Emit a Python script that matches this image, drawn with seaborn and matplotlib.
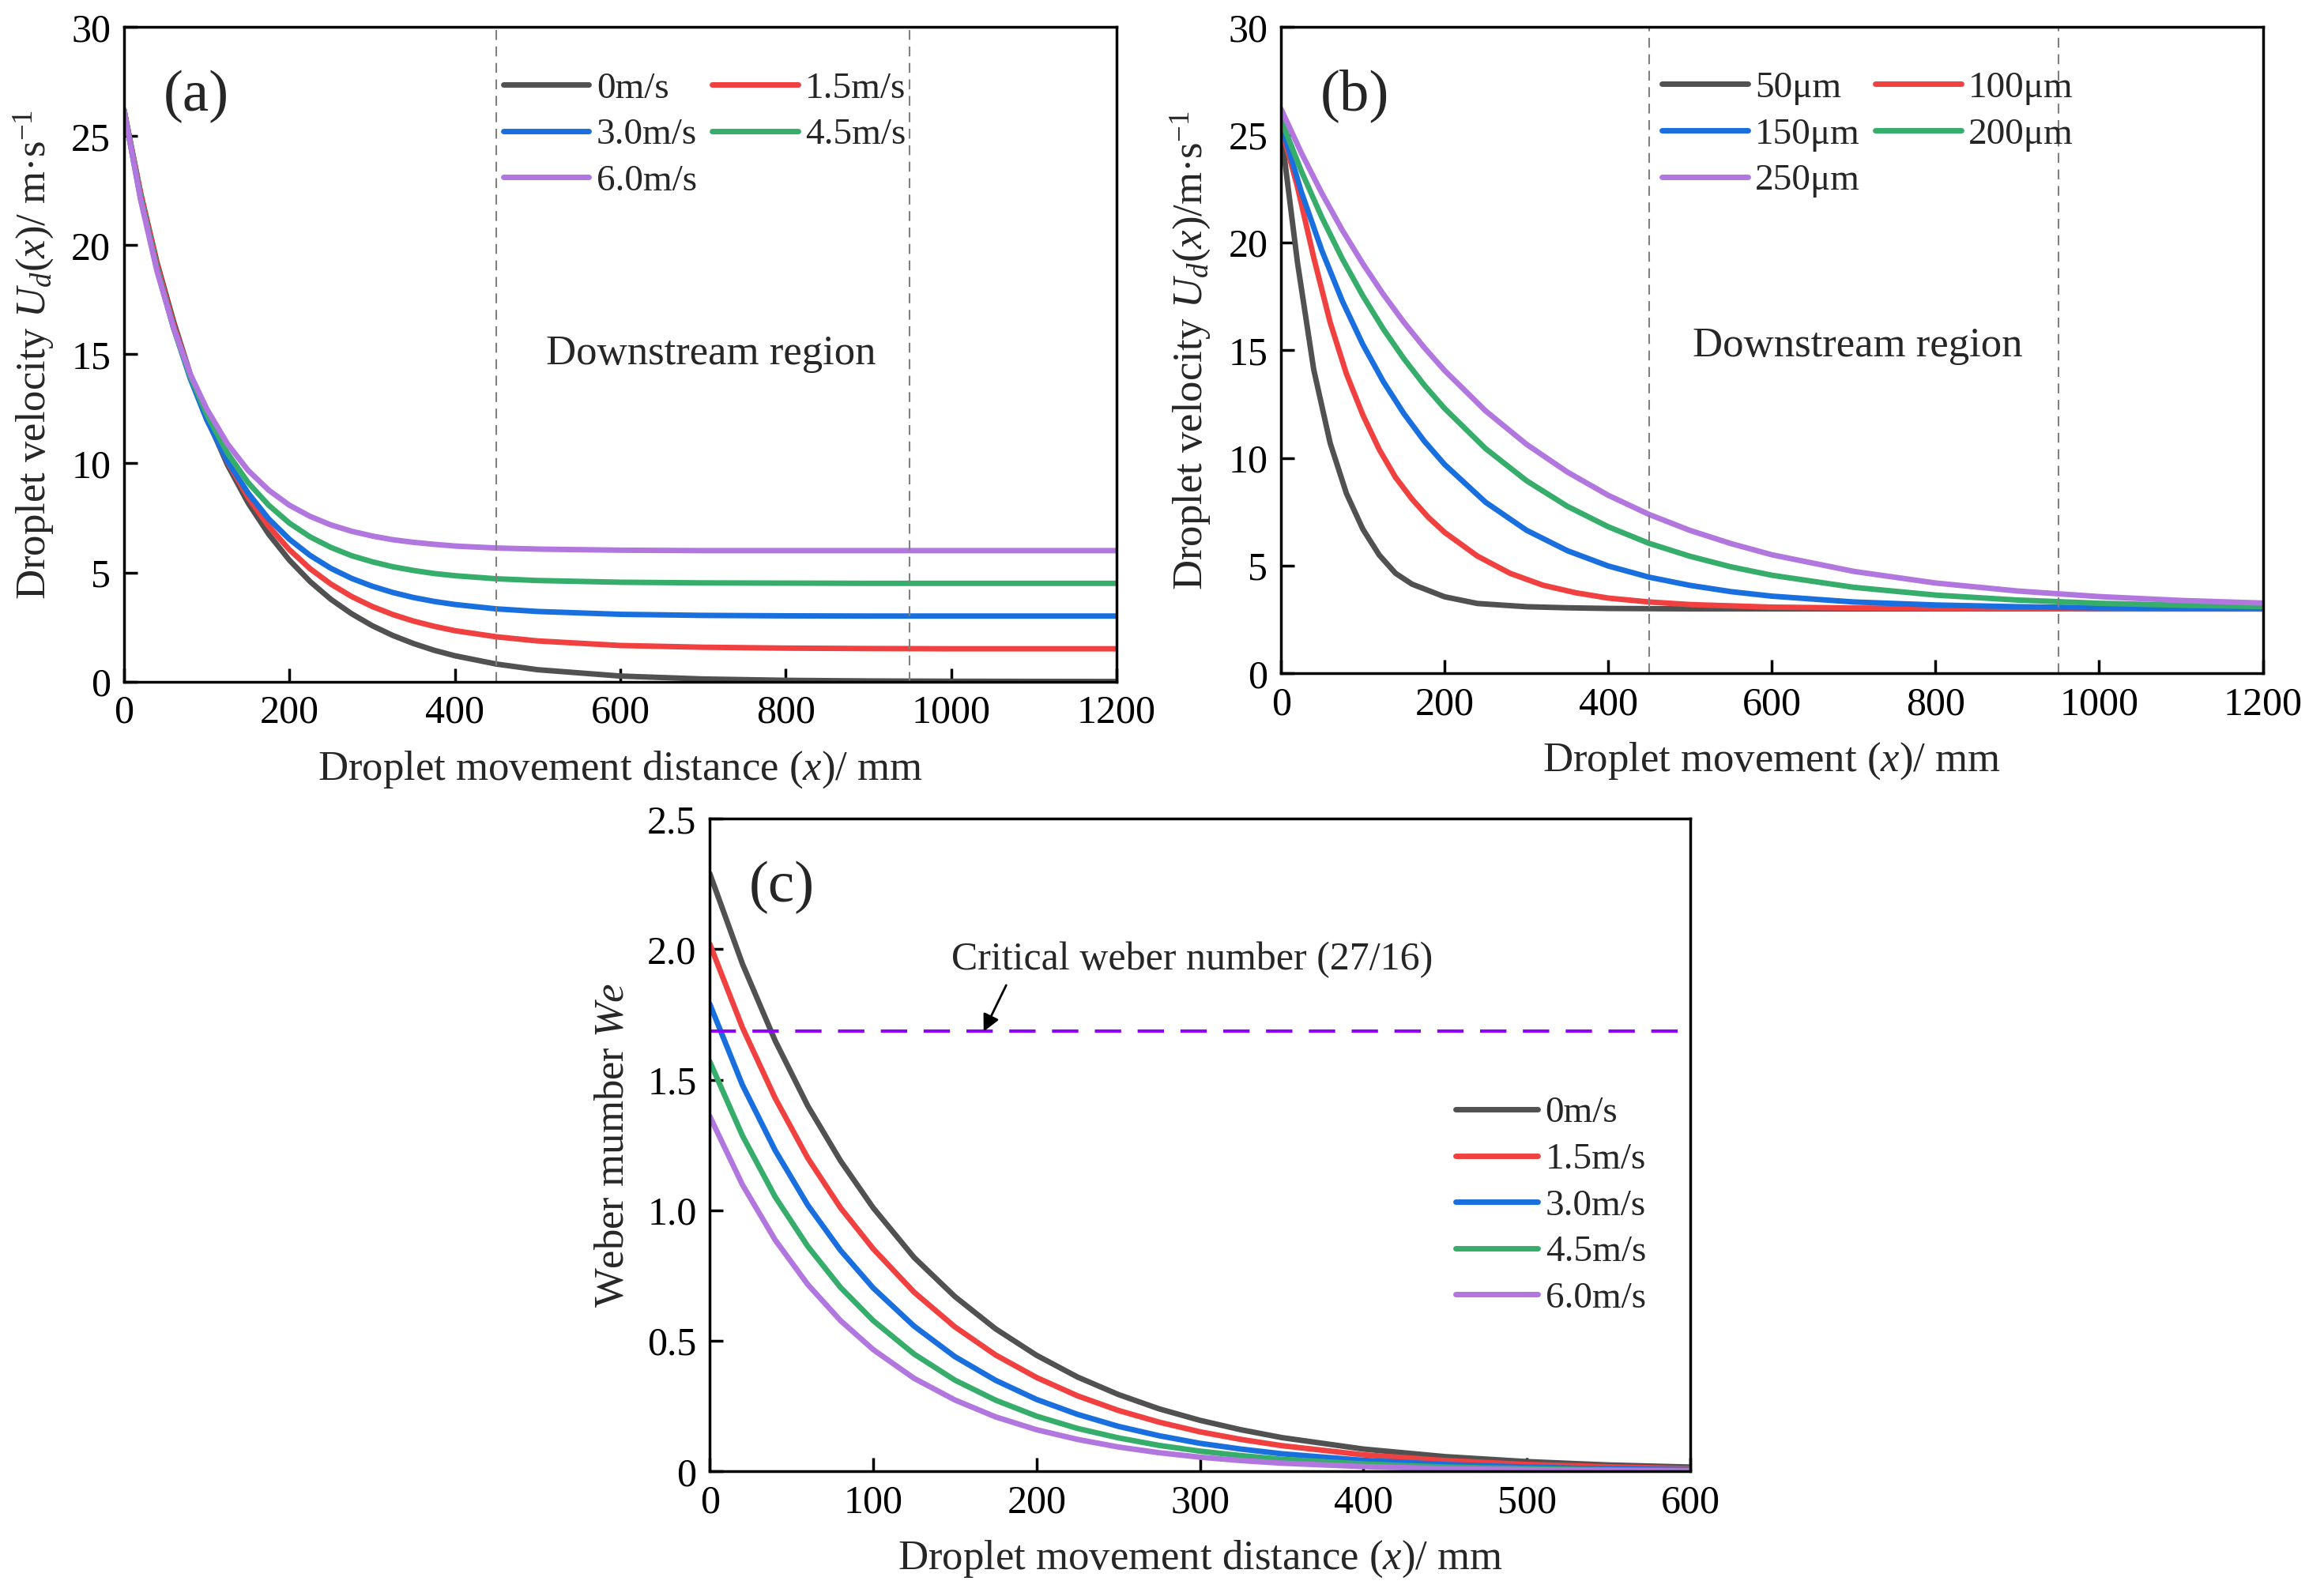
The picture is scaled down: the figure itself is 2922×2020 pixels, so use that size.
import numpy as np
import pandas as pd
import matplotlib
matplotlib.use('Agg')
import matplotlib.pyplot as plt
import seaborn as sns

# стиль
sns.set_theme(style='ticks')
plt.rcParams['font.family'] = ['Liberation Serif', 'DejaVu Serif']
plt.rcParams['mathtext.fontset'] = 'custom'
plt.rcParams['mathtext.rm'] = 'Liberation Serif'
plt.rcParams['mathtext.it'] = 'Liberation Serif:italic'
plt.rcParams['axes.linewidth'] = 2.5
plt.rcParams['axes.edgecolor'] = 'black'

colors = ['#515151', '#F14040', '#1A6FDF', '#37AD6B', '#B177DE']

# ---- данные (a): скорость капли при разной скорости воздуха
wind_labels = ['0m/s', '1.5m/s', '3.0m/s', '4.5m/s', '6.0m/s']
x_a = [0, 20, 40, 60, 80, 100, 125, 150, 175, 200, 225, 250, 275, 300, 325, 350, 375, 400,
       450, 500, 600, 700, 800, 900, 1000, 1100, 1200]
u_a_0 = [26.2, 22.4, 19.2, 16.5, 14.1, 12.1, 9.94, 8.19, 6.75, 5.56, 4.58, 3.77, 3.11, 2.56,
         2.11, 1.74, 1.43, 1.18, 0.80, 0.54, 0.25, 0.115, 0.053, 0.024, 0.011, 0.005, 0.0]
u_a_15 = [26.2, 22.4, 19.1, 16.35, 14.05, 12.1, 10.07, 8.44, 7.11, 6.04, 5.17, 4.47, 3.90, 3.44,
          3.07, 2.77, 2.53, 2.33, 2.05, 1.86, 1.65, 1.57, 1.53, 1.51, 1.50, 1.50, 1.50]
u_a_30 = [26.2, 22.2, 18.9, 16.2, 13.9, 12.0, 10.1, 8.64, 7.45, 6.52, 5.78, 5.19, 4.73, 4.37,
          4.08, 3.85, 3.67, 3.53, 3.33, 3.21, 3.08, 3.03, 3.01, 3.0, 3.0, 3.0, 3.0]
u_a_45 = [26.2, 22.2, 18.9, 16.2, 14.0, 12.25, 10.48, 9.12, 8.08, 7.26, 6.63, 6.15, 5.77, 5.49,
          5.26, 5.09, 4.95, 4.85, 4.71, 4.63, 4.55, 4.52, 4.51, 4.5, 4.5, 4.5, 4.5]
u_a_60 = [26.2, 22.1, 18.8, 16.2, 14.1, 12.5, 10.9, 9.68, 8.77, 8.08, 7.57, 7.18, 6.89, 6.67,
          6.50, 6.38, 6.29, 6.21, 6.12, 6.07, 6.02, 6.0, 6.0, 6.0, 6.0, 6.0, 6.0]

# ---- данные (b): скорость капли при разном диаметре
size_labels = ['50μm', '100μm', '150μm', '200μm', '250μm']
x_b_50 = [0, 20, 40, 60, 80, 100, 120, 140, 160, 200, 240, 300, 350, 400, 500, 600, 800, 1000, 1200]
u_b_50 = [25.2, 19.1, 14.1, 10.7, 8.35, 6.7, 5.5, 4.65, 4.15, 3.56, 3.25, 3.1, 3.05, 3.02, 3.0,
          3.0, 3.0, 3.0, 3.0]
x_b_100 = [0, 20, 40, 60, 80, 100, 120, 140, 160, 180, 200, 240, 280, 320, 360, 400, 450, 500,
           600, 700, 800, 1000, 1200]
u_b_100 = [25.4, 22.6, 19.3, 16.3, 13.9, 12.0, 10.4, 9.1, 8.1, 7.25, 6.55, 5.45, 4.65, 4.1, 3.75,
           3.5, 3.32, 3.2, 3.08, 3.04, 3.02, 3.0, 3.0]
x_b = [0, 25, 50, 75, 100, 125, 150, 175, 200, 250, 300, 350, 400, 450, 500, 550, 600, 700,
       800, 900, 1000, 1100, 1200]
u_b_150 = [25.5, 22.33, 19.62, 17.28, 15.27, 13.55, 12.07, 10.79, 9.70, 7.95, 6.65, 5.70, 4.99,
           4.47, 4.09, 3.80, 3.59, 3.32, 3.18, 3.10, 3.05, 3.03, 3.02]
u_b_200 = [25.7, 23.30, 21.16, 19.24, 17.53, 15.99, 14.62, 13.39, 12.30, 10.44, 8.95, 7.76, 6.81,
           6.04, 5.44, 4.95, 4.56, 4.00, 3.64, 3.41, 3.26, 3.17, 3.11]
u_b_250 = [26.2, 24.15, 22.28, 20.57, 19.02, 17.60, 16.31, 15.13, 14.06, 12.19, 10.64, 9.35, 8.27,
           7.38, 6.64, 6.03, 5.51, 4.74, 4.20, 3.83, 3.57, 3.39, 3.27]

# ---- данные (c): число Вебера
x_c = [0, 20, 40, 60, 80, 100, 125, 150, 175, 200, 225, 250, 275, 300, 325, 350, 400, 450, 500,
       550, 600]
we_0 = [2.29, 1.944, 1.65, 1.40, 1.19, 1.01, 0.82, 0.67, 0.546, 0.445, 0.362, 0.295, 0.240,
        0.196, 0.160, 0.130, 0.086, 0.057, 0.038, 0.025, 0.017]
we_15 = [2.02, 1.70, 1.43, 1.20, 1.01, 0.853, 0.687, 0.554, 0.446, 0.360, 0.290, 0.234, 0.189,
         0.152, 0.123, 0.099, 0.064, 0.042, 0.027, 0.018, 0.011]
we_30 = [1.79, 1.48, 1.23, 1.02, 0.847, 0.703, 0.557, 0.440, 0.349, 0.276, 0.219, 0.173, 0.137,
         0.108, 0.086, 0.068, 0.043, 0.027, 0.017, 0.010, 0.007]
we_45 = [1.57, 1.286, 1.052, 0.862, 0.705, 0.578, 0.450, 0.350, 0.273, 0.212, 0.165, 0.129,
         0.100, 0.078, 0.061, 0.047, 0.029, 0.017, 0.011, 0.006, 0.004]
we_60 = [1.36, 1.098, 0.887, 0.716, 0.578, 0.467, 0.357, 0.274, 0.209, 0.160, 0.123, 0.094,
         0.072, 0.055, 0.042, 0.032, 0.019, 0.011, 0.0065, 0.004, 0.002]
we_critical = 27 / 16

region_lines = [450, 950]

TICK = 36
LAB = 38
LEG = 34
LW = 5

fig = plt.figure(figsize=(29.22, 20.20), dpi=100)
ax_a = fig.add_axes([0.0537, 0.573, 0.4299, 0.410])
ax_b = fig.add_axes([0.5548, 0.578, 0.4252, 0.405])
ax_c = fig.add_axes([0.3074, 0.078, 0.4246, 0.409])


def style_axis(ax):
    ax.tick_params(direction='in', length=12, width=2.5, pad=12, labelsize=TICK,
                   top=False, right=False, colors='black')
    for s in ax.spines.values():
        s.set_visible(True)
        s.set_linewidth(2.5)
        s.set_color('black')
    ax.grid(False)


def row_legend(ax, anchor):
    # порядок как в оригинале: по строкам в 2 столбца
    h, l = ax.get_legend_handles_labels()
    idx = [0, 2, 4, 1, 3]
    leg = ax.legend([h[i] for i in idx], [l[i] for i in idx], ncol=2, loc='upper left',
                    bbox_to_anchor=anchor, frameon=False, fontsize=LEG, borderpad=0,
                    borderaxespad=0, handlelength=2.3, handletextpad=0.2,
                    columnspacing=0.4, labelspacing=0.33)
    return leg


# (a)
series_a = [u_a_0, u_a_15, u_a_30, u_a_45, u_a_60]
for vals, c, lab in zip(series_a, colors, wind_labels):
    sns.lineplot(x=x_a, y=vals, color=c, lw=LW, label=lab, ax=ax_a)
for xv in region_lines:
    ax_a.axvline(xv, color='#808080', lw=1.5, ls=(0, (6, 4)))
ax_a.set_xlim(0, 1200)
ax_a.set_ylim(0, 30)
ax_a.set_xticks(range(0, 1201, 200))
ax_a.set_yticks(range(0, 31, 5))
style_axis(ax_a)
ax_a.set_xlabel('Droplet movement distance ($x$)/ mm', fontsize=LAB, labelpad=16)
ax_a.set_ylabel('Droplet velocity $U_d(x)$/ m·s$^{-1}$', fontsize=LAB, labelpad=14)
ax_a.text(48, 26.8, '(a)', fontsize=54, ha='left', va='center')
ax_a.text(710, 15.0, 'Downstream region', fontsize=LAB, ha='center', va='center')
row_legend(ax_a, (0.382, 0.932))

# (b)
xs_b = [x_b_50, x_b_100, x_b, x_b, x_b]
series_b = [u_b_50, u_b_100, u_b_150, u_b_200, u_b_250]
for xx, vals, c, lab in zip(xs_b, series_b, colors, size_labels):
    sns.lineplot(x=xx, y=vals, color=c, lw=LW, label=lab, ax=ax_b)
for xv in region_lines:
    ax_b.axvline(xv, color='#808080', lw=1.5, ls=(0, (6, 4)))
ax_b.set_xlim(0, 1200)
ax_b.set_ylim(0, 30)
ax_b.set_xticks(range(0, 1201, 200))
ax_b.set_yticks(range(0, 31, 5))
style_axis(ax_b)
ax_b.set_xlabel('Droplet movement ($x$)/ mm', fontsize=LAB, labelpad=16)
ax_b.set_ylabel('Droplet velocity $U_d(x)$/m·s$^{-1}$', fontsize=LAB, labelpad=14)
ax_b.text(48, 26.8, '(b)', fontsize=54, ha='left', va='center')
ax_b.text(705, 15.2, 'Downstream region', fontsize=LAB, ha='center', va='center')
row_legend(ax_b, (0.388, 0.932))

# (c)
series_c = [we_0, we_15, we_30, we_45, we_60]
for vals, c, lab in zip(series_c, colors, wind_labels):
    sns.lineplot(x=x_c, y=vals, color=c, lw=LW, label=lab, ax=ax_c)
ax_c.axhline(we_critical, color='#8F00FF', lw=3, ls=(0, (8, 5)))
ax_c.set_xlim(0, 600)
ax_c.set_ylim(0, 2.5)
ax_c.set_xticks(range(0, 601, 100))
c_yticks = [0, 0.5, 1.0, 1.5, 2.0, 2.5]
ax_c.set_yticks(c_yticks)
ax_c.set_yticklabels(['0', '0.5', '1.0', '1.5', '2.0', '2.5'])
style_axis(ax_c)
ax_c.set_xlabel('Droplet movement distance ($x$)/ mm', fontsize=LAB, labelpad=16)
ax_c.set_ylabel('Weber mumber $We$', fontsize=LAB, labelpad=14)
ax_c.text(24, 2.235, '(c)', fontsize=54, ha='left', va='center')
ax_c.text(295, 1.96, 'Critical weber number (27/16)', fontsize=LAB - 2, ha='center', va='center')
ax_c.annotate('', xy=(167, we_critical - 0.01), xytext=(182, 1.87),
              arrowprops=dict(arrowstyle='-|>', color='black', lw=2, mutation_scale=32))
ax_c.legend(loc='upper left', bbox_to_anchor=(0.761, 0.575), frameon=False, fontsize=LEG,
            borderpad=0, borderaxespad=0, handlelength=2.2, handletextpad=0.2,
            labelspacing=0.33)

fig.savefig('out.png', dpi=100, facecolor='white')
